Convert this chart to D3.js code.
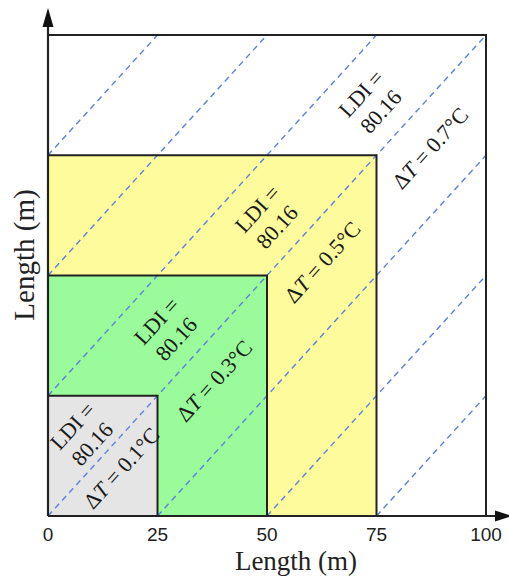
<!DOCTYPE html>
<html>
<head>
<meta charset="utf-8">
<script src="https://cdn.jsdelivr.net/npm/d3@7"></script>
<style>
body{margin:0;background:#fff;}
svg{display:block;}
.tick{font-family:"Liberation Sans",Arial,sans-serif;font-size:19px;fill:#222;}
.ttl{font-family:"Liberation Serif","Times New Roman",serif;fill:#222;}
.ann{font-family:"Liberation Serif","Times New Roman",serif;font-size:22px;fill:#1a1a1a;}
</style>
</head>
<body>
<svg id="chart"></svg>
<script>
const W=509,H=579;
// square sizes (m) and fills, largest first
const sizes=[100,75,50,25];
const fills=['#ffffff','#fdfb9c','#99fb99','#e5e5e5'];
const ticks=[0,25,50,75,100];
// dashed iso-lines y = x + c
const lineOffsets=[-75,-50,-25,0,25,50,75];
// annotation text and anchor points in data units
const ldiText=['LDI =','80.16'];
const ldiAt=[[7.8,16.9],[27,38.7],[50,62],[73.7,86]];
const dTvals=['0.1','0.3','0.5','0.7'];
const dTAt=[[16.7,10],[37.9,28.1],[62.6,52.8],[87.2,76.5]];

const svg=d3.select('#chart').attr('width',W).attr('height',H);
const x=d3.scaleLinear([0,100],[48,486]);
const y=d3.scaleLinear([0,100],[516,35]);

const gSq=svg.append('g');
const gDash=svg.append('g');
const gEdge=svg.append('g');
const gAx=svg.append('g');
const gAnn=svg.append('g');

// filled squares
gSq.selectAll('rect').data(sizes).join('rect')
  .attr('x',x(0)).attr('y',d=>y(d))
  .attr('width',d=>x(d)-x(0)).attr('height',d=>y(0)-y(d))
  .attr('fill',(d,i)=>fills[i]);

// dashed diagonals
gDash.selectAll('line').data(lineOffsets).join('line')
  .attr('x1',c=>x(Math.max(0,-c))).attr('y1',c=>y(Math.max(0,c)))
  .attr('x2',c=>x(Math.min(100,100-c))).attr('y2',c=>y(Math.min(100,100+c)))
  .attr('stroke','#5a80e0').attr('stroke-width',1.4).attr('stroke-dasharray','6,4.5');

// square outlines (top + right edges)
gEdge.selectAll('path').data(sizes).join('path')
  .attr('d',d=>`M${x(0)},${y(d)}H${x(d)}V${y(0)}`)
  .attr('fill','none').attr('stroke','#222').attr('stroke-width',2);

// axes with arrows
gAx.append('line').attr('x1',x(0)).attr('y1',y(0)).attr('x2',x(0)).attr('y2',24)
  .attr('stroke','#222').attr('stroke-width',2.2);
gAx.append('path').attr('d',`M${x(0)},8L${x(0)-5.5},27L${x(0)+5.5},27Z`).attr('fill','#111');
gAx.append('line').attr('x1',x(0)).attr('y1',y(0)).attr('x2',498).attr('y2',y(0))
  .attr('stroke','#222').attr('stroke-width',2.2);
gAx.append('path').attr('d',`M512,${y(0)}L495,${y(0)-5.5}L495,${y(0)+5.5}Z`).attr('fill','#111');

gAx.selectAll('text.tick').data(ticks).join('text').attr('class','tick')
  .attr('x',d=>x(d)).attr('y',541).attr('text-anchor','middle').text(d=>d);
gAx.append('text').attr('class','ttl').attr('font-size',27)
  .attr('x',296).attr('y',570).attr('text-anchor','middle').text('Length (m)');
gAx.append('text').attr('class','ttl').attr('font-size',29)
  .attr('transform',`translate(34,255) rotate(-90)`).attr('text-anchor','middle').text('Length (m)');

// annotations rotated along the diagonals
const ang=Math.atan2(y(0)-y(25),x(25)-x(0))*180/Math.PI;
gAnn.selectAll('text.ldi').data(ldiAt).join('text').attr('class','ann ldi')
  .attr('text-anchor','middle')
  .attr('transform',d=>`translate(${x(d[0])},${y(d[1])}) rotate(${-ang})`)
  .selectAll('tspan').data(ldiText).join('tspan')
  .attr('x',0).attr('y',(t,i)=>i?21:-5.5).text(t=>t);

const dT=gAnn.selectAll('text.dt').data(dTAt).join('text').attr('class','ann dt')
  .attr('text-anchor','middle').attr('dy','0.35em')
  .attr('transform',d=>`translate(${x(d[0])},${y(d[1])}) rotate(${-ang})`);
dT.append('tspan').text('\u0394');
dT.append('tspan').attr('font-style','italic').text('T');
dT.append('tspan').text((d,i)=>` = ${dTvals[i]}\u00b0C`);
</script>
</body>
</html>
